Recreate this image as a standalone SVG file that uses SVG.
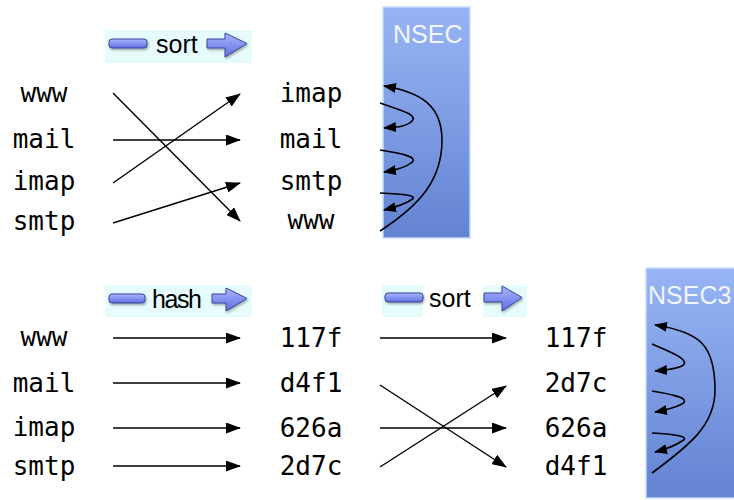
<svg xmlns="http://www.w3.org/2000/svg" width="734" height="500" viewBox="0 0 734 500">
  <defs>
    <style>
      .lbl { font-family: "DejaVu Sans Mono", "Liberation Mono", monospace; font-size: 26px; fill: #000; text-anchor: middle; }
      .op { font-family: "Liberation Sans", Arial, sans-serif; font-size: 25px; fill: #000; }
      .rec { font-family: "Liberation Sans", Arial, sans-serif; font-size: 25px; fill: #f2f6ff; }
      .link { fill: none; stroke: #000; stroke-width: 1.4; marker-end: url(#tip); }
      .chain { fill: none; stroke: #000; stroke-width: 1.6; marker-end: url(#tipSmall); }
      .badge { fill: #e6fbfb; }
      .bar { fill: url(#barFill); stroke: #3b4796; stroke-width: 1; filter: url(#shade); }
      .rr { stroke: #c9dcff; stroke-width: 1.5; }
    </style>
    <linearGradient id="barFill" x1="0" y1="0" x2="0" y2="1">
      <stop offset="0" stop-color="#a9b6ff"/>
      <stop offset="1" stop-color="#5e6fe0"/>
    </linearGradient>
    <linearGradient id="rrFill" x1="0" y1="0" x2="0" y2="1">
      <stop offset="0" stop-color="#97b5f5"/>
      <stop offset="1" stop-color="#6383d2"/>
    </linearGradient>
    <filter id="shade" x="-20%" y="-40%" width="140%" height="180%">
      <feDropShadow dx="1" dy="1.5" stdDeviation="0.8" flood-color="#000" flood-opacity="0.35"/>
    </filter>
    <marker id="tip" markerUnits="userSpaceOnUse" markerWidth="15" markerHeight="11" viewBox="0 0 15 11" refX="14" refY="5.5" orient="auto">
      <path d="M0,0 L15,5.5 L0,11 z" fill="#000"/>
    </marker>
    <marker id="tipSmall" markerUnits="userSpaceOnUse" markerWidth="13" markerHeight="10" viewBox="0 0 13 10" refX="12" refY="5" orient="auto">
      <path d="M0,0 L13,5 L0,10 z" fill="#000"/>
    </marker>
  </defs>

  <rect width="734" height="500" fill="#fff"/>

  <!-- record boxes -->
  <g id="nsec">
    <rect class="rr" x="383" y="7" width="87" height="231" fill="url(#rrFill)"/>
    <text class="rec" x="393" y="43">NSEC</text>
  </g>
  <g id="nsec3">
    <rect class="rr" x="646" y="268" width="92" height="230" fill="url(#rrFill)"/>
    <text class="rec" x="648" y="304">NSEC3</text>
  </g>

  <!-- operation badges -->
  <g id="op-sort-1">
    <rect class="badge" x="105" y="30" width="147" height="33"/>
    <rect class="bar" x="109" y="39" width="38" height="9" rx="3"/>
    <text class="op" x="156" y="53">sort</text>
    <path class="bar" d="M207,39 L225,39 L225,33 L247,43.5 L225,57 L225,48 L207,48 z"/>
  </g>
  <g id="op-hash">
    <rect class="badge" x="105" y="285" width="147" height="32"/>
    <rect class="bar" x="109" y="294" width="36" height="9" rx="3"/>
    <text class="op" x="152" y="308" textLength="50">hash</text>
    <path class="bar" d="M212,294 L226,294 L226,288 L247,298.5 L226,311 L226,303 L212,303 z"/>
  </g>
  <g id="op-sort-2">
    <rect class="badge" x="382" y="285" width="41" height="32"/>
    <rect class="badge" x="483" y="285" width="44" height="32"/>
    <rect class="bar" x="385" y="293" width="38" height="9" rx="3"/>
    <text class="op" x="429" y="307">sort</text>
    <path class="bar" d="M484,293 L502,293 L502,286 L522,297.5 L502,311 L502,302 L484,302 z"/>
  </g>

  <!-- names, top block -->
  <g id="names-top-left">
    <text class="lbl" x="44" y="102">www</text>
    <text class="lbl" x="44" y="148">mail</text>
    <text class="lbl" x="44" y="190">imap</text>
    <text class="lbl" x="44" y="230">smtp</text>
  </g>
  <g id="names-top-sorted">
    <text class="lbl" x="311" y="102">imap</text>
    <text class="lbl" x="311" y="148">mail</text>
    <text class="lbl" x="311" y="190">smtp</text>
    <text class="lbl" x="311" y="229">www</text>
  </g>

  <!-- names and hashes, bottom block -->
  <g id="names-bottom">
    <text class="lbl" x="44" y="346">www</text>
    <text class="lbl" x="44" y="392">mail</text>
    <text class="lbl" x="44" y="436">imap</text>
    <text class="lbl" x="44" y="475">smtp</text>
  </g>
  <g id="hashes">
    <text class="lbl" x="311" y="347">117f</text>
    <text class="lbl" x="311" y="392">d4f1</text>
    <text class="lbl" x="311" y="437">626a</text>
    <text class="lbl" x="311" y="475">2d7c</text>
  </g>
  <g id="hashes-sorted">
    <text class="lbl" x="576" y="347">117f</text>
    <text class="lbl" x="576" y="392">2d7c</text>
    <text class="lbl" x="576" y="437">626a</text>
    <text class="lbl" x="576" y="475">d4f1</text>
  </g>

  <!-- connectors -->
  <g id="connectors">
    <line class="link" x1="113" y1="93" x2="240" y2="221"/>
    <line class="link" x1="113" y1="140" x2="240" y2="140"/>
    <line class="link" x1="113" y1="183" x2="240" y2="94"/>
    <line class="link" x1="113" y1="223" x2="240" y2="183"/>

    <line class="link" x1="113" y1="338" x2="240" y2="338"/>
    <line class="link" x1="113" y1="383" x2="240" y2="383"/>
    <line class="link" x1="113" y1="428" x2="240" y2="428"/>
    <line class="link" x1="113" y1="466" x2="240" y2="466"/>

    <line class="link" x1="380" y1="338" x2="506" y2="338"/>
    <line class="link" x1="380" y1="385" x2="506" y2="467"/>
    <line class="link" x1="380" y1="428" x2="506" y2="428"/>
    <line class="link" x1="380" y1="467" x2="506" y2="386"/>

    <!-- NSEC chain -->
    <path class="chain" d="M380,231 C420,205 442,180 442,140 C442,105 420,92 384,86"/>
    <path class="chain" d="M380,103 C400,110 420,115 411,122 C405,127 396,127 384,128"/>
    <path class="chain" d="M380,150 C400,153 420,157 411,163 C405,168 396,170 384,172"/>
    <path class="chain" d="M380,193 C400,194 420,195 411,200 C405,204 396,207 384,210"/>

    <!-- NSEC3 chain -->
    <path class="chain" d="M652,473 C690,445 715,425 715,390 C715,345 700,332 655,325"/>
    <path class="chain" d="M652,344 C670,352 692,360 682,366 C676,369 667,370 655,371"/>
    <path class="chain" d="M652,391 C670,394 692,398 682,404 C676,407 667,410 655,412"/>
    <path class="chain" d="M652,433 C670,434 692,436 682,441 C676,445 667,449 655,452"/>
  </g>
</svg>
